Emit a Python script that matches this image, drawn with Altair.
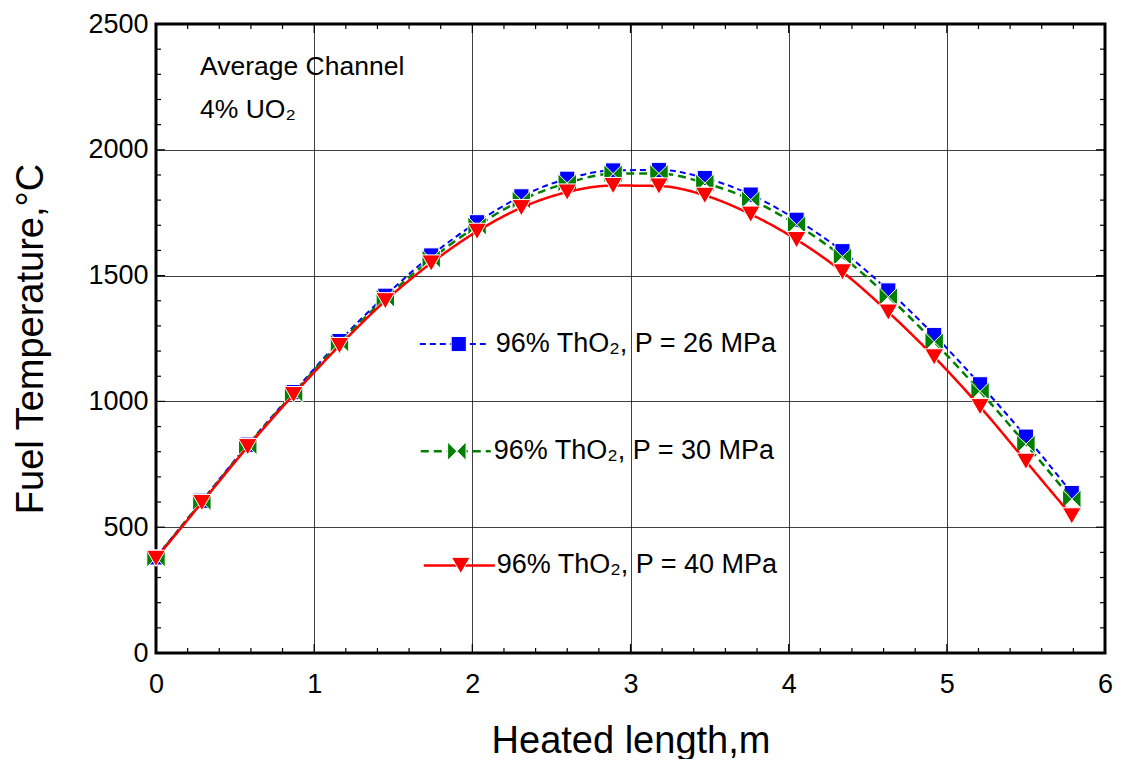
import altair as alt
import pandas as pd

# ---------------- data ----------------
length_m = [0.0, 0.29, 0.58, 0.87, 1.16, 1.45, 1.74, 2.03, 2.31, 2.60, 2.89,
            3.18, 3.47, 3.76, 4.05, 4.34, 4.63, 4.92, 5.21, 5.50, 5.79]
temp_26 = [380, 605, 828, 1037, 1240, 1420, 1580, 1712, 1815, 1885, 1918,
           1920, 1888, 1822, 1722, 1597, 1441, 1264, 1068, 860, 636]
temp_30 = [378, 602, 824, 1032, 1232, 1410, 1566, 1697, 1800, 1868, 1905,
           1906, 1868, 1802, 1702, 1575, 1416, 1237, 1040, 830, 612]
temp_40 = [376, 598, 820, 1027, 1222, 1400, 1550, 1676, 1770, 1832, 1858,
           1856, 1819, 1744, 1643, 1515, 1355, 1177, 979, 762, 545]

series_labels = ["96% ThO\u2082, P = 26 MPa", "96% ThO\u2082, P = 30 MPa",
                 "96% ThO\u2082, P = 40 MPa"]
# legend anchor positions in data units (line start, marker, line end, text start, y)
legend_line_start = [1.668, 1.674, 1.693]
legend_marker_x = [1.914, 1.902, 1.927]
legend_line_end = [2.085, 2.116, 2.142]
legend_text_x = [2.148, 2.135, 2.154]
legend_y = [1228, 802, 348]

note_lines = ["Average Channel", "4% UO\u2082"]
note_x = [0.278, 0.278]
note_y = [2330, 2160]

x_ticks = [0, 1, 2, 3, 4, 5, 6]
y_ticks = [0, 500, 1000, 1500, 2000, 2500]
x_minor = [round(i * 0.2, 2) for i in range(31)]
y_minor = [i * 100 for i in range(26)]

# ---------------- styling ----------------
W, H = 949, 629
FONT = "Liberation Sans"
colors = ["#0000FF", "#008000", "#FF0000"]
dashes = [[6, 4], [8, 5], [1, 0]]
widths = [2, 2.5, 2.5]
shapes = ["square", "M-1,-1L0,0L-1,1Z M1,-1L0,0L1,1Z", "triangle-down"]
sizes = [230, 340, 350]

xs = alt.Scale(domain=[0, 6], nice=False, zero=False)
ys = alt.Scale(domain=[0, 2500], nice=False)

X_AX = alt.Axis(values=x_ticks, title="Heated length,m", ticks=False, domain=False,
                grid=True, gridColor="#000000", gridWidth=1, gridOpacity=0.75,
                format="d", labelFont=FONT, labelFontSize=27, labelColor="#000000",
                labelPadding=18, labelFlush=False, titleFont=FONT, titleFontSize=38,
                titleFontWeight="normal", titleColor="#000000", titlePadding=25)
Y_AX = alt.Axis(values=y_ticks, title="Fuel Temperature,\u00b0C", ticks=False, domain=False,
                grid=True, gridColor="#000000", gridWidth=1, gridOpacity=0.75,
                format="d", labelFont=FONT, labelFontSize=27, labelColor="#000000",
                labelPadding=8, labelFlush=False, titleFont=FONT, titleFontSize=38,
                titleFontWeight="normal", titleColor="#000000", titlePadding=37)


def X(field):
    return alt.X(field, type="quantitative", scale=xs, axis=X_AX)


def Y(field):
    return alt.Y(field, type="quantitative", scale=ys, axis=Y_AX)


rows = []
for lab, vals in zip(series_labels, [temp_26, temp_30, temp_40]):
    for xv, tv in zip(length_m, vals):
        rows.append({"x": xv, "temp": tv, "series": lab})
df = pd.DataFrame(rows)

layers = []

# inward ticks on all four sides
ydf = pd.DataFrame({"v": y_minor, "major": [v % 500 == 0 for v in y_minor]})
xdf = pd.DataFrame({"v": x_minor, "major": [abs(v - round(v)) < 1e-6 for v in x_minor]})
for is_major, ln in [(True, 9), (False, 5)]:
    yd = ydf[ydf["major"] == is_major]
    xd = xdf[xdf["major"] == is_major]
    layers.append(alt.Chart(yd).mark_rule(color="black", strokeWidth=1.2).encode(
        y=Y("v"), x=alt.value(0), x2=alt.value(ln)))
    layers.append(alt.Chart(yd).mark_rule(color="black", strokeWidth=1.2).encode(
        y=Y("v"), x=alt.value(W), x2=alt.value(W - ln)))
    layers.append(alt.Chart(xd).mark_rule(color="black", strokeWidth=1.2).encode(
        x=X("v"), y=alt.value(0), y2=alt.value(ln)))
    layers.append(alt.Chart(xd).mark_rule(color="black", strokeWidth=1.2).encode(
        x=X("v"), y=alt.value(H), y2=alt.value(H - ln)))

# series lines and markers
for i, lab in enumerate(series_labels):
    base = alt.Chart(df).transform_filter(alt.datum.series == lab)
    layers.append(base.mark_line(color=colors[i], strokeWidth=widths[i],
                                 strokeDash=dashes[i], interpolate="monotone").encode(
        x=X("x"), y=Y("temp")))
    layers.append(base.mark_point(shape=shapes[i], size=sizes[i], filled=True,
                                  fill=colors[i], stroke="white", strokeWidth=1,
                                  opacity=1).encode(x=X("x"), y=Y("temp")))

# in-plot legend
for i, lab in enumerate(series_labels):
    seg = pd.DataFrame({"lx": [legend_line_start[i], legend_line_end[i]],
                        "ly": [legend_y[i], legend_y[i]]})
    layers.append(alt.Chart(seg).mark_line(color=colors[i], strokeWidth=widths[i],
                                           strokeDash=dashes[i]).encode(
        x=X("lx"), y=Y("ly")))
    mk = pd.DataFrame({"lx": [legend_marker_x[i]], "ly": [legend_y[i]]})
    layers.append(alt.Chart(mk).mark_point(shape=shapes[i], size=sizes[i], filled=True,
                                           fill=colors[i], stroke="white", strokeWidth=1,
                                           opacity=1).encode(x=X("lx"), y=Y("ly")))
    tx = pd.DataFrame({"lx": [legend_text_x[i]], "ly": [legend_y[i]], "t": [lab]})
    layers.append(alt.Chart(tx).mark_text(align="left", baseline="middle", font=FONT,
                                          fontSize=27, color="black").encode(
        x=X("lx"), y=Y("ly"), text="t:N"))

notes = pd.DataFrame({"lx": note_x, "ly": note_y, "t": note_lines})
layers.append(alt.Chart(notes).mark_text(align="left", baseline="middle", font=FONT,
                                         fontSize=26.5, color="black").encode(
    x=X("lx"), y=Y("ly"), text="t:N"))

chart = alt.layer(*layers).properties(
    width=W, height=H,
    autosize=alt.AutoSizeParams(type="none"),
    padding={"left": 148, "top": 16, "right": 9, "bottom": 106},
    background="white",
).configure_view(stroke="black", strokeWidth=3)

chart.save("out.html", embed_options={"renderer": "svg", "actions": False})
